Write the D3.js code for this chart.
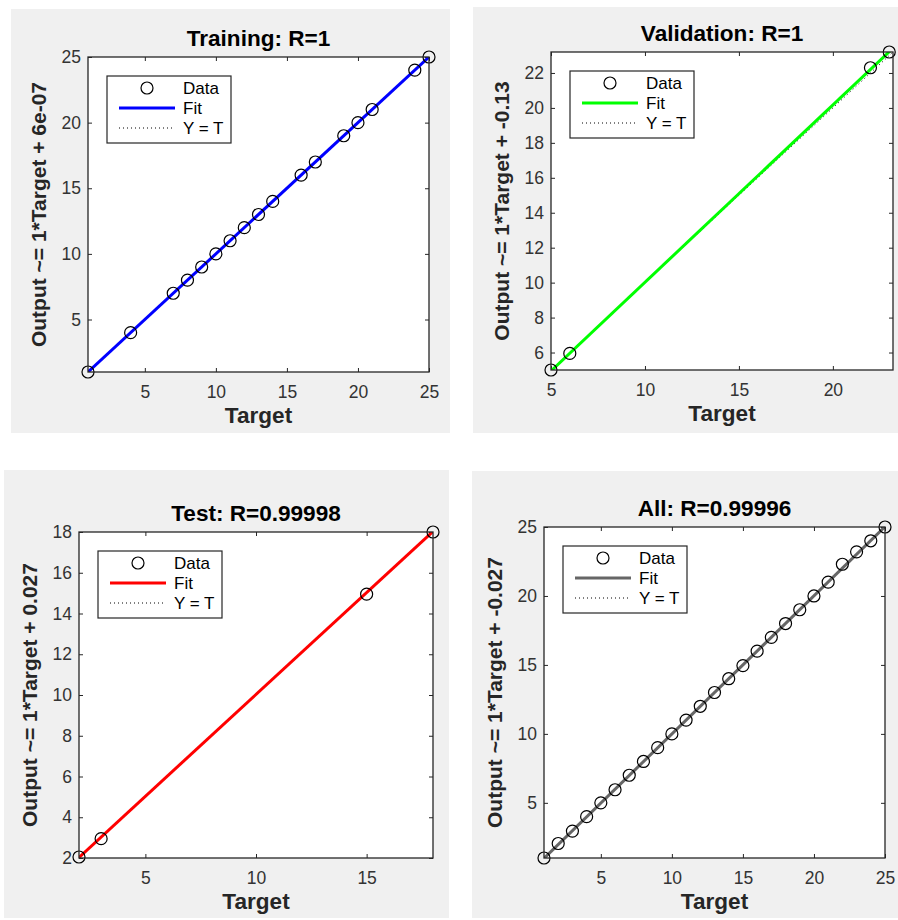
<!DOCTYPE html>
<html>
<head>
<meta charset="utf-8">
<script src="https://cdn.jsdelivr.net/npm/d3@7"></script>
<style>
  html, body { margin: 0; padding: 0; background: #ffffff; }
  svg { display: block; }
  text { font-family: "Liberation Sans", Arial, Helvetica, sans-serif; }
</style>
</head>
<body>
<svg id="chart" width="898" height="920"></svg>
<script>
// ---------------- DATA ----------------
const panelTitles = ["Training: R=1", "Validation: R=1", "Test: R=0.99998", "All: R=0.99996"];
const yAxisLabels = [
  "Output ~= 1*Target + 6e-07",
  "Output ~= 1*Target + -0.13",
  "Output ~= 1*Target + 0.027",
  "Output ~= 1*Target + -0.027"
];
const xAxisLabel = "Target";
const legendLabels = ["Data", "Fit", "Y = T"];

const trainTargets = [1, 4, 7, 8, 9, 10, 11, 12, 13, 14, 16, 17, 19, 20, 21, 24, 25];
const trainOutputs = [1, 4, 7, 8, 9, 10, 11, 12, 13, 14, 16, 17, 19, 20, 21, 24, 25];

const valTargets = [5, 6, 22, 23];
const valOutputs = [5, 5.95, 22.3, 23.2];

const testTargets = [2, 3, 15, 18];
const testOutputs = [2.05, 2.95, 14.95, 18];

const allTargets = [1, 2, 3, 4, 5, 6, 7, 8, 9, 10, 11, 12, 13, 14, 15, 16, 17, 18, 19, 20, 21, 22, 23, 24, 25];
const allOutputs = [1, 2.05, 2.95, 4, 5, 5.95, 7, 8, 9, 10, 11, 12, 13, 14, 14.95, 16, 17, 18, 19, 20, 21, 22.3, 23.2, 24, 25];

// axis limits [min, max] (same for both axes in each panel)
const axisLimits = [[1, 25], [5, 23.2], [2, 18], [1, 25]];

// fit lines: slope, intercept
const fitSlopes = [1, 1.015, 1, 1.002];
const fitIntercepts = [6e-7, -0.13, 0.027, -0.027];

// tick labels
const xTicks = [
  [5, 10, 15, 20, 25],
  [5, 10, 15, 20],
  [5, 10, 15],
  [5, 10, 15, 20, 25]
];
const yTicks = [
  [5, 10, 15, 20, 25],
  [6, 8, 10, 12, 14, 16, 18, 20, 22],
  [2, 4, 6, 8, 10, 12, 14, 16, 18],
  [5, 10, 15, 20, 25]
];

// ---------------- LAYOUT / STYLE ----------------
const fitColors = ["#0000ff", "#00ff00", "#ff0000", "#666666"];
const backgrounds = [
  [11, 9, 450, 433],
  [473, 7, 898, 433],
  [4, 470, 449, 918],
  [472, 471, 898, 918]
];
const plotBoxes = [
  [88, 57, 429, 372],
  [551, 52, 893, 370],
  [79, 532, 433, 858],
  [544, 527, 885, 858]
];

const seriesT = [trainTargets, valTargets, testTargets, allTargets];
const seriesY = [trainOutputs, valOutputs, testOutputs, allOutputs];

const svg = d3.select("#chart");
const defs = svg.append("defs");
const axisColor = "#262626";
const tickLen = 4;
const wideX = 1.05;

for (let i = 0; i < 4; i++) {
  const bg = backgrounds[i];
  svg.append("rect")
    .attr("x", bg[0]).attr("y", bg[1])
    .attr("width", bg[2] - bg[0]).attr("height", bg[3] - bg[1])
    .attr("fill", "#f0f0f0");

  const [L, T, R, B] = plotBoxes[i];
  const W = R - L, H = B - T;
  const g = svg.append("g").attr("transform", `translate(${L},${T})`);

  defs.append("clipPath").attr("id", "clip" + i)
    .append("rect").attr("width", W).attr("height", H);

  const x = d3.scaleLinear().domain(axisLimits[i]).range([0, W]);
  const y = d3.scaleLinear().domain(axisLimits[i]).range([H, 0]);

  // plot area
  g.append("rect").attr("width", W).attr("height", H).attr("fill", "#ffffff");

  // axes (ticks inward on all sides)
  const styleAxis = (sel) => {
    sel.select(".domain").remove();
    sel.selectAll(".tick line").attr("stroke", axisColor).attr("stroke-width", 1);
    sel.selectAll(".tick text")
      .attr("fill", "#333333")
      .style("font-size", "17.5px")
      .style("font-family", "'Liberation Sans', Arial, sans-serif");
  };
  g.append("g").attr("transform", `translate(0,${H})`)
    .call(d3.axisBottom(x).tickValues(xTicks[i]).tickSize(-tickLen).tickPadding(9).tickFormat(d3.format("d")))
    .call(styleAxis)
    .selectAll(".tick text").attr("dy", "0.95em");
  g.append("g")
    .call(d3.axisTop(x).tickValues(xTicks[i]).tickSize(-tickLen).tickFormat(""))
    .call(styleAxis);
  g.append("g")
    .call(d3.axisLeft(y).tickValues(yTicks[i]).tickSize(-tickLen).tickPadding(7).tickFormat(d3.format("d")))
    .call(styleAxis);
  g.append("g").attr("transform", `translate(${W},0)`)
    .call(d3.axisRight(y).tickValues(yTicks[i]).tickSize(-tickLen).tickFormat(""))
    .call(styleAxis);

  const lines = g.append("g").attr("clip-path", `url(#clip${i})`);

  // Y = T dotted line
  const lim = axisLimits[i];
  lines.append("line")
    .attr("x1", x(lim[0])).attr("y1", y(lim[0]))
    .attr("x2", x(lim[1])).attr("y2", y(lim[1]))
    .attr("stroke", "#000").attr("stroke-width", 1)
    .attr("stroke-dasharray", "1,3");

  // fit line
  const f = (t) => fitSlopes[i] * t + fitIntercepts[i];
  lines.append("line")
    .attr("x1", x(lim[0])).attr("y1", y(f(lim[0])))
    .attr("x2", x(lim[1])).attr("y2", y(f(lim[1])))
    .attr("stroke", fitColors[i]).attr("stroke-width", 3);

  // data circles
  const pts = seriesT[i].map((t, k) => [t, seriesY[i][k]]);
  g.selectAll("circle.data").data(pts).enter().append("circle")
    .attr("class", "data")
    .attr("cx", d => x(d[0])).attr("cy", d => y(d[1]))
    .attr("r", 6)
    .attr("fill", "none").attr("stroke", "#000").attr("stroke-width", 1.2);

  // box
  g.append("rect").attr("width", W).attr("height", H)
    .attr("fill", "none").attr("stroke", axisColor).attr("stroke-width", 1.3);

  // title
  svg.append("text")
    .attr("transform", `translate(${L + W / 2},${T - 11}) scale(${wideX},1)`)
    .attr("text-anchor", "middle")
    .attr("fill", "#000")
    .style("font-size", "21.5px").style("font-weight", "bold")
    .text(panelTitles[i]);

  // x label
  svg.append("text")
    .attr("transform", `translate(${L + W / 2},${B + 51}) scale(${wideX},1)`)
    .attr("text-anchor", "middle")
    .attr("fill", "#262626")
    .style("font-size", "21.5px").style("font-weight", "bold")
    .text(xAxisLabel);

  // y label
  svg.append("text")
    .attr("transform", `translate(${L - 42},${T + H / 2}) rotate(-90)`)
    .attr("text-anchor", "middle")
    .attr("fill", "#262626")
    .style("font-size", "21px").style("font-weight", "bold")
    .text(yAxisLabels[i]);

  // legend
  const lg = g.append("g").attr("transform", "translate(19,19)");
  lg.append("rect").attr("width", 124).attr("height", 67)
    .attr("fill", "#ffffff").attr("stroke", axisColor).attr("stroke-width", 1.2);
  const rows = [12, 32, 52];
  lg.append("circle").attr("cx", 40).attr("cy", rows[0]).attr("r", 6)
    .attr("fill", "none").attr("stroke", "#000").attr("stroke-width", 1.2);
  lg.append("line").attr("x1", 12).attr("x2", 68).attr("y1", rows[1]).attr("y2", rows[1])
    .attr("stroke", fitColors[i]).attr("stroke-width", 3);
  lg.append("line").attr("x1", 12).attr("x2", 68).attr("y1", rows[2]).attr("y2", rows[2])
    .attr("stroke", "#000").attr("stroke-width", 1).attr("stroke-dasharray", "1,3");
  legendLabels.forEach((lab, k) => {
    lg.append("text").attr("x", 76).attr("y", rows[k] + 6)
      .attr("fill", "#000")
      .style("font-size", "17px")
      .text(lab);
  });
}
</script>
</body>
</html>
